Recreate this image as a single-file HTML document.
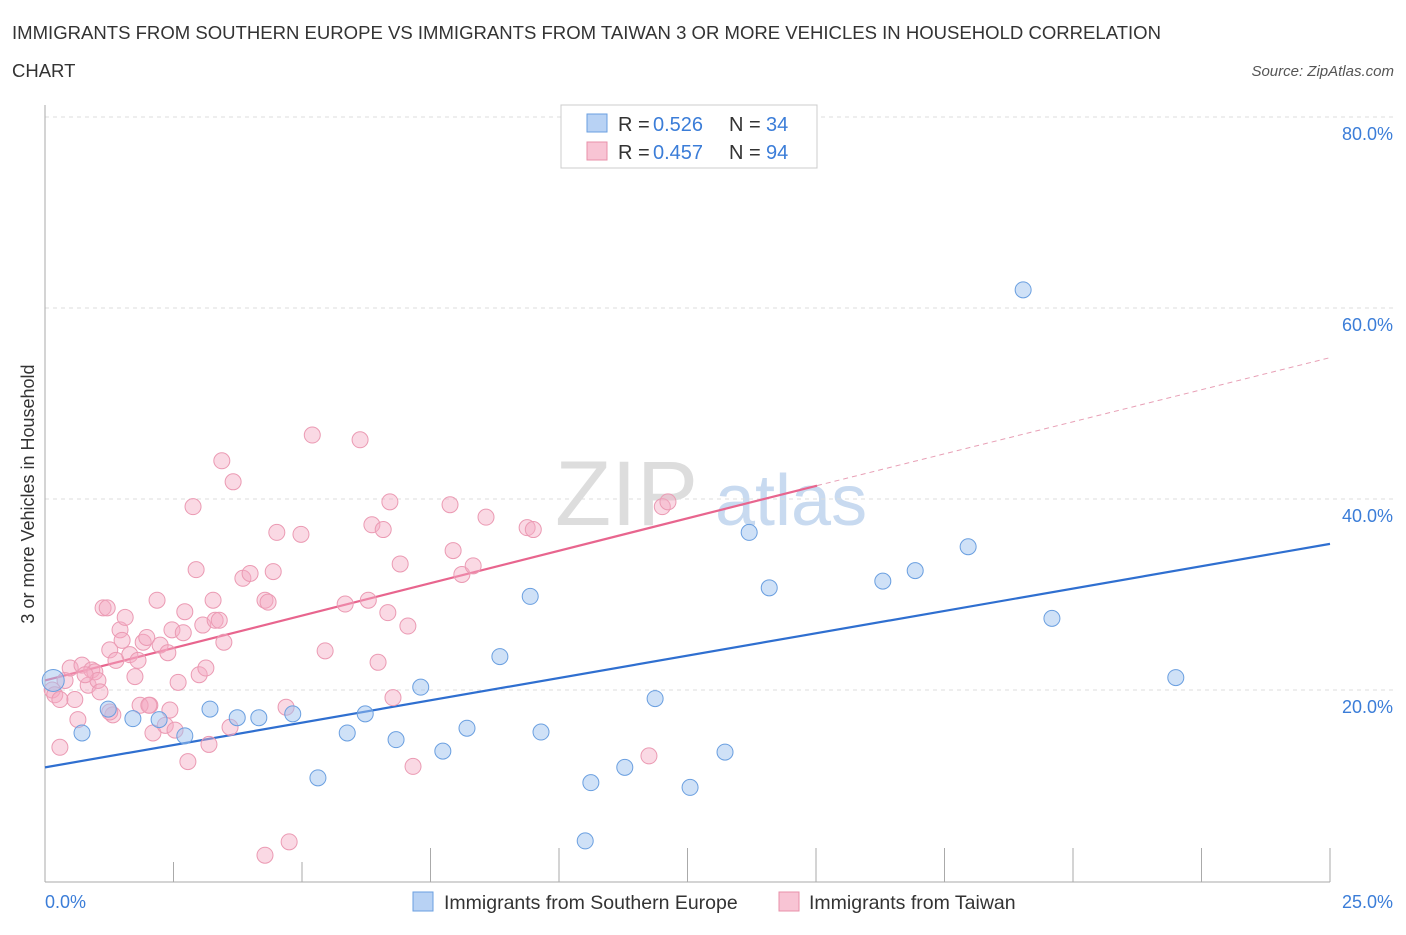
<!DOCTYPE html>
<html><head><meta charset="utf-8"><style>
body{margin:0;background:#fff;font-family:"Liberation Sans",sans-serif;}
svg text{font-family:"Liberation Sans",sans-serif;}
</style></head><body>
<svg id="chart" width="1406" height="930" xmlns="http://www.w3.org/2000/svg">
<text x="12" y="39" font-size="18.5" fill="#333" textLength="1149" lengthAdjust="spacingAndGlyphs">IMMIGRANTS FROM SOUTHERN EUROPE VS IMMIGRANTS FROM TAIWAN 3 OR MORE VEHICLES IN HOUSEHOLD CORRELATION</text>
<text x="12" y="77" font-size="18.5" fill="#333">CHART</text>
<text x="1394" y="76" font-size="15" fill="#555" text-anchor="end" font-style="italic">Source: ZipAtlas.com</text>
<text x="555" y="525" font-size="92" fill="#ddd" font-family="Liberation Serif">ZIP</text>
<text x="715" y="525" font-size="72" fill="#c8daf0">atlas</text>
<g id="grid"></g><g id="axes"></g><g id="lines"></g><g id="pts"></g>
<text transform="translate(34,494) rotate(-90)" font-size="18" fill="#333" text-anchor="middle">3 or more Vehicles in Household</text>
<text x="45" y="908" font-size="18" fill="#3b7dd8">0.0%</text>
<text x="1393" y="908" font-size="18" fill="#3b7dd8" text-anchor="end">25.0%</text>
<g>
<rect x="561" y="105" width="256" height="63" fill="#fff" stroke="#ccc"/>
<rect x="587" y="114" width="20" height="18" fill="#b8d2f4" stroke="#6a9fe0"/>
<rect x="587" y="142" width="20" height="18" fill="#f8c4d4" stroke="#e890aa"/>
<text x="618" y="131" font-size="20" fill="#333">R =</text>
<text x="653" y="131" font-size="20" fill="#3b7dd8">0.526</text>
<text x="729" y="131" font-size="20" fill="#333">N =</text>
<text x="766" y="131" font-size="20" fill="#3b7dd8">34</text>
<text x="618" y="159" font-size="20" fill="#333">R =</text>
<text x="653" y="159" font-size="20" fill="#3b7dd8">0.457</text>
<text x="729" y="159" font-size="20" fill="#333">N =</text>
<text x="766" y="159" font-size="20" fill="#3b7dd8">94</text>
</g>
<g>
<rect x="413" y="892" width="20" height="19" fill="#b8d2f4" stroke="#6a9fe0"/>
<text x="444" y="909" font-size="19.5" fill="#333">Immigrants from Southern Europe</text>
<rect x="779" y="892" width="20" height="19" fill="#f8c4d4" stroke="#e890aa"/>
<text x="809" y="909" font-size="19.5" fill="#333">Immigrants from Taiwan</text>
</g>
</svg>
<script>
const yTicks=[20,40,60,80];
const blueX=[0.16,0.72,1.23,1.71,2.22,2.72,3.21,3.74,4.16,4.82,5.31,5.88,6.23,6.83,7.31,7.74,8.21,8.85,9.44,9.65,10.62,10.51,11.28,11.87,12.55,13.23,13.70,14.09,16.30,16.93,17.96,19.03,19.59,22.00];
const blueY=[21.0,15.5,18.0,17.0,16.9,15.2,18.0,17.1,17.1,17.5,10.8,15.5,17.5,14.8,20.3,13.6,16.0,23.5,29.8,15.6,10.3,4.2,11.9,19.1,9.8,13.5,36.5,30.7,31.4,32.5,35.0,61.9,27.5,21.3];
const pinkX=[0.14,0.19,0.29,0.39,0.49,0.58,0.64,0.72,0.84,0.91,0.97,1.03,1.13,1.21,1.26,1.32,1.38,1.46,1.50,1.56,1.65,1.75,1.81,1.91,1.98,2.04,2.10,2.18,2.24,2.34,2.39,2.47,2.53,2.59,2.69,2.72,2.78,2.88,2.94,3.00,3.07,3.13,3.19,3.27,3.31,3.39,3.44,3.48,3.60,3.66,3.85,3.99,4.28,4.34,4.44,4.51,4.69,4.75,4.28,4.98,5.20,5.45,5.84,6.13,6.29,6.36,6.48,6.58,6.67,6.71,6.77,6.91,7.06,7.16,7.88,7.94,8.11,8.33,8.58,9.38,9.50,11.75,12.01,12.12,1.26,1.85,0.29,1.07,0.78,2.43,2.02];
const pinkY=[20.0,19.5,14.0,21.0,22.3,19.0,16.9,22.6,20.5,22.1,21.9,21.0,28.6,28.6,24.2,17.4,23.1,26.3,25.2,27.6,23.7,21.4,23.1,25.0,25.5,18.4,15.5,29.4,24.7,16.3,23.9,26.3,15.8,20.8,26.0,28.2,12.5,39.2,32.6,21.6,26.8,22.3,14.3,29.4,27.3,27.3,44.0,25.0,16.1,41.8,31.7,32.2,29.4,29.2,32.4,36.5,18.2,4.1,2.7,36.3,46.7,24.1,29.0,46.2,29.4,37.3,22.9,36.8,28.1,39.7,19.2,33.2,26.7,12.0,39.4,34.6,32.1,33.0,38.1,37.0,36.8,13.1,39.2,39.7,17.7,18.4,19.0,19.8,21.6,17.9,18.4];
const blueTrend=[11.9,35.3];
const pinkTrend=[21.0,41.4,54.8];
const pinkSolidEnd=15.02;
const X=v=>45+v/25*1285, Y=v=>881-v/20*191;
const NS='http://www.w3.org/2000/svg';
function mk(p,t,a){const e=document.createElementNS(NS,t);for(const k in a)e.setAttribute(k,a[k]);document.getElementById(p).appendChild(e);return e;}
yTicks.forEach(t=>{
 const l=mk('grid','line',{x1:45,x2:1394,y1:Y(t),y2:Y(t),stroke:'#ddd','stroke-dasharray':'4,4'});
 
 
 const tx=mk('grid','text',{x:1393,y:Y(t)+23,'font-size':18,fill:'#3b7dd8','text-anchor':'end'});tx.textContent=t.toFixed(1)+'%';
 
 
});
const ax=mk('axes','line',{x1:45,x2:45,y1:105,y2:882,stroke:'#aaa'});


const bx=mk('axes','line',{x1:45,x2:1330,y1:882,y2:882,stroke:'#aaa'});


for(let i=1;i<=10;i++){const v=i*2.5;const t=mk('axes','line',{x1:X(v),x2:X(v),y1:i>=3?848:862,y2:882,stroke:'#aaa'});
 
 }
const bl=mk('lines','line',{x1:X(0),y1:Y(blueTrend[0]),x2:X(25),y2:Y(blueTrend[1]),stroke:'#2f6fd0','stroke-width':2.2});


const pl=mk('lines','line',{x1:X(0),y1:Y(pinkTrend[0]),x2:X(pinkSolidEnd),y2:Y(pinkTrend[1]),stroke:'#e8658e','stroke-width':2.2});


const pd=mk('lines','line',{x1:X(pinkSolidEnd),y1:Y(pinkTrend[1]),x2:X(25),y2:Y(pinkTrend[2]),stroke:'#e8a0b6','stroke-width':1,'stroke-dasharray':'5,4'});


pinkX.forEach((x,i)=>{const c=mk('pts','circle',{cx:X(x),cy:Y(pinkY[i]),r:8,fill:'rgba(245,170,195,0.45)',stroke:'#eb9ab3','stroke-width':1});
 
 });
blueX.forEach((x,i)=>{const c=mk('pts','circle',{cx:X(x),cy:Y(blueY[i]),r:i==0?11:8,fill:'rgba(160,195,240,0.5)',stroke:'#6a9fe0','stroke-width':1});
 
 });
</script>
</body></html>
